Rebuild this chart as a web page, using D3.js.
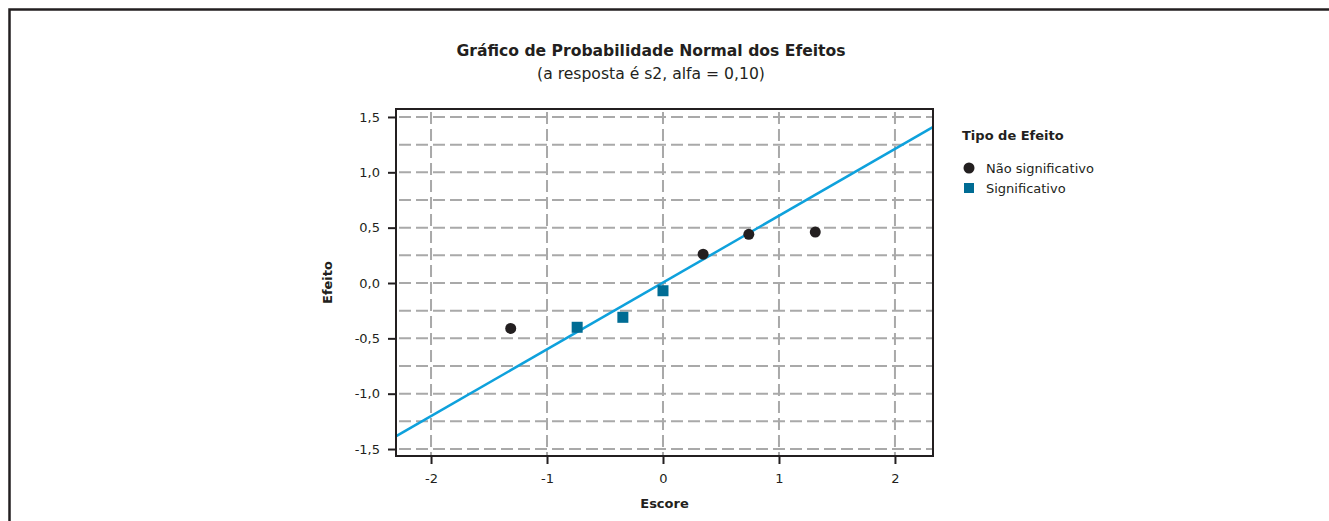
<!DOCTYPE html>
<html><head><meta charset="utf-8">
<script src="https://cdn.jsdelivr.net/npm/d3@7"></script>
<style>
html,body{margin:0;padding:0;background:#fff;}
svg{display:block;font-family:"DejaVu Sans",Verdana,sans-serif;}
</style></head>
<body>
<svg id="chart" width="1329" height="521"></svg>
<script>
// Data
const nonSigScores  = [-1.313, 0.346, 0.740, 1.313];
const nonSigEffects = [-0.41, 0.26, 0.44, 0.46];
const sigScores  = [-0.740, -0.346, 0.0];
const sigEffects = [-0.40, -0.31, -0.07];
const fitLineScores  = [-2.31, 2.33];
const fitLineEffects = [-1.39, 1.41];
const xTicks = [-2, -1, 0, 1, 2];
const yTicks = [-1.5, -1.0, -0.5, 0.0, 0.5, 1.0, 1.5];
const yGrid  = [-1.5, -1.25, -1.0, -0.75, -0.5, -0.25, 0, 0.25, 0.5, 0.75, 1.0, 1.25, 1.5];
const legendLabels = ["Não significativo", "Significativo"];

const svg = d3.select("#chart");
const L = 396, R = 933, T = 109, B = 456;
const x = d3.scaleLinear().domain([-2.302, 2.328]).range([L, R]);
const y = d3.scaleLinear().domain([-1.563, 1.572]).range([B, T]);
const fmt = v => d3.format(".1f")(v).replace(".", ",").replace("−", "-");

// outer frame
svg.append("path").attr("d", "M9.5,560 L9.5,9.5 L1340,9.5")
  .attr("fill", "none").attr("stroke", "#231f20").attr("stroke-width", 2.5);

// title
svg.append("text").attr("x", 651).attr("y", 56).attr("text-anchor", "middle")
  .attr("font-weight", "bold").attr("font-size", 15.6).attr("fill", "#231f20")
  .text("Gráfico de Probabilidade Normal dos Efeitos");
svg.append("text").attr("x", 651).attr("y", 79).attr("text-anchor", "middle")
  .attr("font-size", 15.6).attr("fill", "#231f20")
  .text("(a resposta é s2, alfa = 0,10)");

svg.append("clipPath").attr("id", "clip").append("rect")
  .attr("x", L).attr("y", T).attr("width", R - L).attr("height", B - T);

const g = svg.append("g").attr("clip-path", "url(#clip)");
// grid
g.selectAll(".hg").data(yGrid).join("line")
  .attr("x1", L).attr("x2", R).attr("y1", d => y(d)).attr("y2", d => y(d))
  .attr("stroke", "#a9a9a9").attr("stroke-width", 2).attr("stroke-dasharray", "12,5")
  .attr("stroke-dashoffset", -3);
g.selectAll(".vg").data(xTicks).join("line")
  .attr("x1", d => x(d)).attr("x2", d => x(d)).attr("y1", T).attr("y2", B)
  .attr("stroke", "#a9a9a9").attr("stroke-width", 2).attr("stroke-dasharray", "12,5")
  .attr("stroke-dashoffset", -3);

// fitted line
g.append("path").datum(fitLineScores.map((s, i) => [s, fitLineEffects[i]]))
  .attr("d", d3.line().x(d => x(d[0])).y(d => y(d[1])))
  .attr("fill", "none").attr("stroke", "#0ea1dc").attr("stroke-width", 2.5);

// frame
svg.append("rect").attr("x", L).attr("y", T).attr("width", R - L).attr("height", B - T)
  .attr("fill", "none").attr("stroke", "#231f20").attr("stroke-width", 2);

// axes
const xAxis = svg.append("g").attr("transform", `translate(0,${B})`)
  .call(d3.axisBottom(x).tickValues(xTicks).tickSize(8).tickPadding(10).tickFormat(d => d < 0 ? "-" + Math.abs(d) : d));
const yAxis = svg.append("g").attr("transform", `translate(${L},0)`)
  .call(d3.axisLeft(y).tickValues(yTicks).tickSize(8).tickPadding(8).tickFormat(fmt));
[xAxis, yAxis].forEach(a => {
  a.select(".domain").remove();
  a.selectAll(".tick line").attr("stroke", "#231f20").attr("stroke-width", 2);
  a.selectAll(".tick text").attr("fill", "#231f20").attr("font-size", 13)
    .attr("font-family", "'DejaVu Sans',Verdana,sans-serif");
});

// points
svg.selectAll(".ns").data(nonSigScores.map((s, i) => [s, nonSigEffects[i]])).join("circle")
  .attr("cx", d => x(d[0])).attr("cy", d => y(d[1])).attr("r", 5.5).attr("fill", "#231f20");
svg.selectAll(".sg").data(sigScores.map((s, i) => [s, sigEffects[i]])).join("rect")
  .attr("x", d => x(d[0]) - 5.5).attr("y", d => y(d[1]) - 5.5).attr("width", 11).attr("height", 11)
  .attr("fill", "#006c94");

// axis titles
svg.append("text").attr("x", (L + R) / 2).attr("y", 508).attr("text-anchor", "middle")
  .attr("font-weight", "bold").attr("font-size", 13).attr("fill", "#231f20").text("Escore");
svg.append("text").attr("transform", `translate(332,${(T + B) / 2}) rotate(-90)`)
  .attr("text-anchor", "middle").attr("font-weight", "bold").attr("font-size", 13)
  .attr("fill", "#231f20").text("Efeito");

// legend
svg.append("text").attr("x", 962).attr("y", 140).attr("font-weight", "bold")
  .attr("font-size", 13).attr("fill", "#231f20").text("Tipo de Efeito");
svg.append("circle").attr("cx", 969).attr("cy", 168).attr("r", 5.5).attr("fill", "#231f20");
svg.append("rect").attr("x", 964).attr("y", 183).attr("width", 10).attr("height", 10).attr("fill", "#006c94");
svg.selectAll(".lt").data(legendLabels).join("text")
  .attr("x", 986).attr("y", (d, i) => 173 + i * 20).attr("font-size", 13).attr("fill", "#231f20")
  .text(d => d);
</script>
</body></html>
